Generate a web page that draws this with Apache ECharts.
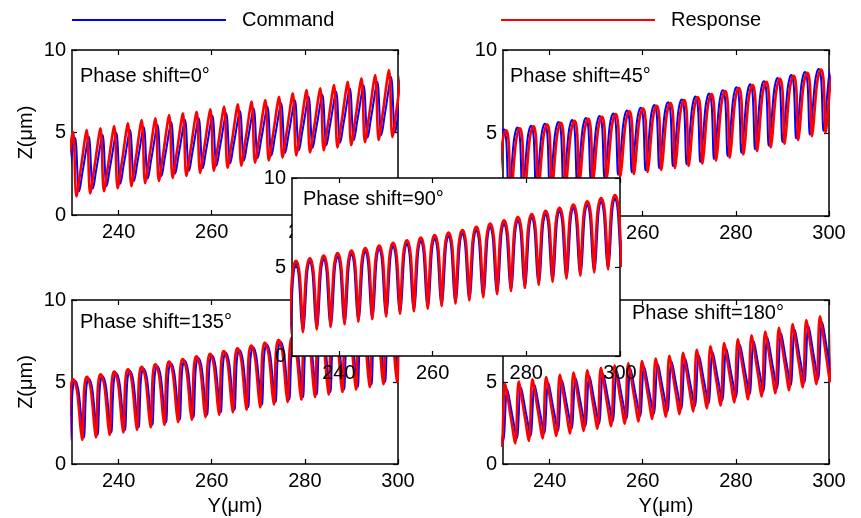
<!DOCTYPE html>
<html>
<head>
<meta charset="utf-8">
<script src="https://cdn.jsdelivr.net/npm/echarts@6/dist/echarts.min.js"></script>
<style>
html,body{margin:0;padding:0;background:#fff;}
#main{width:861px;height:518px;}
</style>
</head>
<body>
<div id="main"></div>
<script>
// tick values
var xTicks = [240, 260, 280, 300];
var yTicks = [0, 5, 10];

// ---- phase 0 (top left) : Y of each cycle top, Z of tops and bottoms
var p0Tops = [230.2,233.15,236.1,239.05,242.0,244.95,247.9,250.85,253.8,256.75,259.7,262.65,265.6,268.55,271.5,274.45,277.4,280.35,283.3,286.25,289.2,292.15,295.1,298.05,301.0];
var p0ResTop = [5.05,5.15,5.25,5.39,5.56,5.76,5.86,6.06,6.16,6.26,6.40,6.57,6.71,6.87,6.97,7.17,7.37,7.58,7.68,7.88,8.08,8.28,8.48,8.79,8.95];
var p0ResBot = [0.98,1.13,1.31,1.44,1.62,1.75,1.93,2.06,2.24,2.37,2.55,2.68,2.86,2.99,3.17,3.30,3.48,3.61,3.79,3.92,4.10,4.23,4.41,4.54,4.72,4.86];
var p0CmdTop = [4.68,4.76,4.86,4.98,5.15,5.34,5.47,5.64,5.77,5.87,6.01,6.16,6.31,6.46,6.58,6.77,6.96,7.16,7.29,7.48,7.68,7.87,8.08,8.36,8.55];
var p0CmdBot = [1.30,1.44,1.60,1.75,1.90,2.06,2.21,2.37,2.52,2.68,2.83,2.99,3.14,3.30,3.45,3.61,3.76,3.92,4.07,4.23,4.38,4.54,4.69,4.85,5.00,5.16];

// ---- phase 45 (top right)
var p1Tops = [230.66,233.6,236.54,239.48,242.42,245.36,248.3,251.24,254.18,257.12,260.06,263.0,265.94,268.88,271.82,274.76,277.7,280.64,283.58,286.52,289.46,292.4,295.34,298.28,301.22];
var p1ResTop = [5.17,5.28,5.40,5.51,5.62,5.74,5.85,5.97,6.14,6.31,6.48,6.64,6.81,6.98,7.15,7.34,7.52,7.71,7.89,8.08,8.26,8.45,8.63,8.82,9.00];
var p1ResBot = [1.00,1.15,1.30,1.45,1.60,1.75,1.90,2.06,2.22,2.38,2.53,2.66,2.78,2.90,3.02,3.16,3.34,3.52,3.71,3.92,4.14,4.36,4.58,4.81,5.04,5.26];
var p1CmdTop = [5.22,5.33,5.44,5.56,5.67,5.78,5.90,6.02,6.18,6.35,6.52,6.69,6.85,7.02,7.20,7.38,7.57,7.75,7.94,8.12,8.31,8.49,8.68,8.86,9.05];
var p1CmdBot = [1.10,1.25,1.40,1.55,1.70,1.85,2.00,2.16,2.32,2.48,2.63,2.76,2.88,3.00,3.12,3.26,3.44,3.62,3.81,4.02,4.24,4.46,4.68,4.91,5.14,5.36];

// ---- phase 90 (centre)
var p2Tops = [227.89,230.85,233.81,236.77,239.73,242.69,245.65,248.61,251.57,254.53,257.49,260.45,263.41,266.37,269.33,272.29,275.25,278.21,281.17,284.13,287.09,290.05,293.01,295.97,298.93,301.89];
var p2ResTop = [5.20,5.35,5.49,5.64,5.78,5.92,6.07,6.21,6.36,6.50,6.65,6.79,6.94,7.08,7.26,7.44,7.62,7.80,7.98,8.16,8.33,8.51,8.69,8.87,9.04,9.20];
var p2ResBot = [1.05,1.19,1.34,1.49,1.63,1.78,1.93,2.07,2.22,2.37,2.51,2.66,2.81,2.95,3.12,3.30,3.47,3.65,3.82,4.00,4.17,4.35,4.52,4.70,4.87,5.05,5.22];
var p2CmdTop = [5.02,5.17,5.31,5.46,5.60,5.74,5.89,6.03,6.18,6.32,6.47,6.61,6.76,6.90,7.08,7.26,7.44,7.62,7.80,7.98,8.15,8.33,8.51,8.69,8.86,9.02];
var p2CmdBot = [1.17,1.31,1.46,1.61,1.75,1.90,2.05,2.19,2.34,2.49,2.63,2.78,2.93,3.07,3.24,3.42,3.59,3.77,3.94,4.12,4.29,4.47,4.64,4.82,4.99,5.17,5.34];

// ---- phase 135 (bottom left)
var p3Tops = [227.32,230.26,233.2,236.14,239.08,242.02,244.96,247.9,250.84,253.78,256.72,259.66,262.6,265.54,268.48,271.42,274.36,277.3,280.24,283.18,286.12,289.06,292.0,294.94,297.88,300.82];
var p3ResTop = [5.02,5.17,5.32,5.47,5.63,5.78,5.93,6.08,6.24,6.40,6.56,6.72,6.89,7.05,7.22,7.39,7.56,7.72,7.89,8.06,8.23,8.40,8.57,8.74,8.91,9.08];
var p3ResBot = [1.16,1.32,1.47,1.63,1.78,1.93,2.09,2.24,2.39,2.55,2.70,2.86,3.01,3.16,3.32,3.47,3.63,3.78,3.93,4.09,4.24,4.40,4.55,4.70,4.86,5.01,5.17];
var p3CmdTop = [4.92,5.07,5.22,5.37,5.53,5.68,5.83,5.98,6.14,6.30,6.46,6.62,6.79,6.95,7.12,7.29,7.46,7.62,7.79,7.96,8.13,8.30,8.47,8.64,8.81,8.98];
var p3CmdBot = [1.31,1.47,1.62,1.78,1.93,2.08,2.24,2.39,2.54,2.70,2.85,3.01,3.16,3.31,3.47,3.62,3.78,3.93,4.08,4.24,4.39,4.55,4.70,4.85,5.01,5.16,5.32];

// ---- phase 180 (bottom right)
var p4Tops = [227.51,230.45,233.39,236.33,239.27,242.21,245.15,248.09,251.03,253.97,256.91,259.85,262.79,265.73,268.67,271.61,274.55,277.49,280.43,283.37,286.31,289.25,292.19,295.13,298.07,301.01];
var p4ResTop = [4.75,4.88,5.02,5.16,5.30,5.44,5.58,5.72,5.86,6.00,6.14,6.28,6.43,6.60,6.78,6.97,7.17,7.37,7.60,7.84,8.07,8.30,8.53,8.77,9.00,9.20];
var p4ResBot = [0.97,1.12,1.26,1.41,1.56,1.71,1.86,2.01,2.15,2.30,2.45,2.60,2.75,2.89,3.04,3.21,3.39,3.57,3.76,3.94,4.12,4.31,4.49,4.67,4.86,5.04,5.23];
var p4CmdTop = [4.40,4.53,4.67,4.81,4.95,5.09,5.23,5.37,5.51,5.65,5.79,5.93,6.08,6.25,6.43,6.62,6.82,7.02,7.25,7.49,7.72,7.95,8.18,8.42,8.65,8.85];
var p4CmdBot = [1.27,1.42,1.56,1.71,1.86,2.01,2.16,2.31,2.45,2.60,2.75,2.90,3.05,3.19,3.34,3.51,3.69,3.87,4.06,4.24,4.42,4.61,4.79,4.97,5.16,5.34,5.53];

// shape of one cycle: [Y offset from the top of the cycle, height fraction]
var shape0Res = {rise:[[-2.18,0],[-1.89,0.1],[-1.51,0.3],[-1.09,0.5],[-0.67,0.72],[-0.29,0.9],[0,1]],
	fall:[[0.20,0.9],[0.32,0.72],[0.39,0.5],[0.46,0.3],[0.58,0.1]]};
var shape0Cmd = {rise:[[-2.08,0],[-1.79,0.1],[-1.44,0.3],[-1.04,0.5],[-0.64,0.72],[-0.29,0.9],[0,1]],
	fall:[[0.21,0.9],[0.34,0.72],[0.44,0.5],[0.54,0.3],[0.67,0.1]]};
var shape45Res = {rise:[[-1.98,0],[-1.82,0.05],[-1.57,0.2],[-1.24,0.5],[-0.83,0.8],[-0.40,0.95],[0,1]],
	fall:[[0.34,0.95],[0.58,0.8],[0.74,0.5],[0.83,0.2],[0.90,0.05]]};
var shape45Cmd = {rise:[[-1.90,0],[-1.74,0.05],[-1.49,0.2],[-1.16,0.5],[-0.78,0.8],[-0.38,0.95],[0,1]],
	fall:[[0.33,0.95],[0.57,0.8],[0.74,0.5],[0.85,0.2],[0.94,0.05]]};
var shape90Res = {rise:[[-1.48,0],[-1.41,0.05],[-1.29,0.2],[-1.09,0.5],[-0.80,0.8],[-0.42,0.95],[0,1]],
	fall:[[0.42,0.95],[0.80,0.8],[1.09,0.5],[1.29,0.2],[1.41,0.05]]};
var shape90Cmd = {rise:[[-1.48,0],[-1.29,0.05],[-1.09,0.2],[-0.86,0.5],[-0.60,0.8],[-0.31,0.95],[0,1]],
	fall:[[0.31,0.95],[0.60,0.8],[0.86,0.5],[1.09,0.2],[1.29,0.05]]};
var shape135Res = {rise:[[-0.99,0],[-0.90,0.05],[-0.83,0.2],[-0.74,0.5],[-0.58,0.8],[-0.34,0.95],[0,1]],
	fall:[[0.40,0.95],[0.83,0.8],[1.24,0.5],[1.57,0.2],[1.82,0.05]]};
var shape135Cmd = {rise:[[-1.06,0],[-0.94,0.05],[-0.85,0.2],[-0.74,0.5],[-0.57,0.8],[-0.33,0.95],[0,1]],
	fall:[[0.38,0.95],[0.78,0.8],[1.16,0.5],[1.49,0.2],[1.74,0.05]]};
var shape180Res = {rise:[[-0.78,0],[-0.58,0.1],[-0.46,0.3],[-0.39,0.5],[-0.32,0.72],[-0.20,0.9],[0,1]],
	fall:[[0.29,0.9],[0.67,0.72],[1.09,0.5],[1.51,0.3],[1.89,0.1]]};
var shape180Cmd = {rise:[[-0.88,0],[-0.67,0.1],[-0.54,0.3],[-0.44,0.5],[-0.34,0.72],[-0.21,0.9],[0,1]],
	fall:[[0.29,0.9],[0.64,0.72],[1.04,0.5],[1.44,0.3],[1.79,0.1]]};

var FONT = '"Liberation Sans", Arial, sans-serif';
var BLUE = '#0000ff';
var RED = '#ff0000';

// grid 4 (phase 90) sits on top of the others
var panels = [
	{box:{left:72, top:50, width:326, height:165}, label:'Phase shift=0°', lx:80, ly:66, tops:p0Tops,
		res:[p0ResTop,p0ResBot,shape0Res], cmd:[p0CmdTop,p0CmdBot,shape0Cmd], cmdShift:0.45, zName:true, yName:false},
	{box:{left:503, top:50, width:326, height:166}, label:'Phase shift=45°', lx:510, ly:66, tops:p1Tops,
		res:[p1ResTop,p1ResBot,shape45Res], cmd:[p1CmdTop,p1CmdBot,shape45Cmd], cmdShift:-0.5, zName:false, yName:false},
	{box:{left:72, top:300, width:326, height:164}, label:'Phase shift=135°', lx:80, ly:312, tops:p3Tops,
		res:[p3ResTop,p3ResBot,shape135Res], cmd:[p3CmdTop,p3CmdBot,shape135Cmd], cmdShift:0.4, zName:true, yName:true},
	{box:{left:503, top:300, width:326, height:164}, label:'Phase shift=180°', lx:632, ly:303, tops:p4Tops,
		res:[p4ResTop,p4ResBot,shape180Res], cmd:[p4CmdTop,p4CmdBot,shape180Cmd], cmdShift:0.45, zName:false, yName:true},
	{box:{left:292, top:178, width:328, height:178}, label:'Phase shift=90°', lx:303, ly:189, tops:p2Tops,
		res:[p2ResTop,p2ResBot,shape90Res], cmd:[p2CmdTop,p2CmdBot,shape90Cmd], cmdShift:0, zName:false, yName:false, top:true}
];

//把每一圈按形状拼成一条线
function buildTrace(tops, topZ, botZ, shape, shift){
	var pts = [];
	for(var k=0;k<tops.length;k++){
		var y0 = tops[k] + shift;
		for(var i=0;i<shape.rise.length;i++){
			var r = shape.rise[i];
			pts.push([y0 + r[0], botZ[k] + r[1]*(topZ[k]-botZ[k])]);
		}
		for(var j=0;j<shape.fall.length;j++){
			var f = shape.fall[j];
			pts.push([y0 + f[0], botZ[k+1] + f[1]*(topZ[k]-botZ[k+1])]);
		}
	}
	return pts;
}

var grids = [], xAxes = [], yAxes = [], series = [], titles = [];
var lineCol = {color:'#000', width:1.5};

for(var g=0; g<panels.length; g++){
	var p = panels[g];
	var zl = p.top ? 1 : 0;
	grids.push({
		left:p.box.left, top:p.box.top, width:p.box.width, height:p.box.height,
		show:true, backgroundColor:'#fff', borderWidth:0, zlevel:zl
	});
	xAxes.push({
		type:'value', gridIndex:g, min:230, max:300, position:'bottom', zlevel:zl,
		axisLine:{show:true, onZero:false, lineStyle:lineCol},
		axisTick:{show:true, inside:true, length:5, customValues:xTicks, lineStyle:{color:'#000', width:1.2}},
		axisLabel:{show:true, customValues:xTicks, margin:7, color:'#000', fontSize:20, fontFamily:FONT},
		splitLine:{show:false},
		name: p.yName ? 'Y(μm)' : '', nameLocation:'middle', nameGap:32,
		nameTextStyle:{color:'#000', fontSize:20, fontFamily:FONT}
	});
	xAxes.push({
		type:'value', gridIndex:g, min:230, max:300, position:'top', zlevel:zl,
		axisLine:{show:true, onZero:false, lineStyle:lineCol},
		axisTick:{show:true, inside:true, length:5, customValues:xTicks, lineStyle:{color:'#000', width:1.2}},
		axisLabel:{show:false}, splitLine:{show:false}
	});
	yAxes.push({
		type:'value', gridIndex:g, min:0, max:10, interval:5, position:'left', zlevel:zl,
		axisLine:{show:true, onZero:false, lineStyle:lineCol},
		axisTick:{show:true, inside:true, length:5, customValues:yTicks, lineStyle:{color:'#000', width:1.2}},
		axisLabel:{show:true, margin:6, customValues:yTicks, color:'#000', fontSize:20, fontFamily:FONT},
		splitLine:{show:false},
		name: p.zName ? 'Z(μm)' : '', nameLocation:'middle', nameGap:36, nameRotate:90,
		nameTextStyle:{color:'#000', fontSize:20, fontFamily:FONT}
	});
	yAxes.push({
		type:'value', gridIndex:g, min:0, max:10, interval:5, position:'right', zlevel:zl,
		axisLine:{show:true, onZero:false, lineStyle:lineCol},
		axisTick:{show:true, inside:true, length:5, customValues:yTicks, lineStyle:{color:'#000', width:1.2}},
		axisLabel:{show:false}, splitLine:{show:false}
	});
	series.push({
		name:'Command', type:'line', xAxisIndex:2*g, yAxisIndex:2*g, zlevel:zl, z:2,
		data:buildTrace(p.tops, p.cmd[0], p.cmd[1], p.cmd[2], p.cmdShift),
		symbol:'none', showSymbol:false, smooth:0.3, silent:true, animation:false,
		lineStyle:{color:BLUE, width:2}, itemStyle:{color:BLUE}
	});
	series.push({
		name:'Response', type:'line', xAxisIndex:2*g, yAxisIndex:2*g, zlevel:zl, z:3,
		data:buildTrace(p.tops, p.res[0], p.res[1], p.res[2], 0),
		symbol:'none', showSymbol:false, smooth:0.3, silent:true, animation:false,
		lineStyle:{color:RED, width:2.6}, itemStyle:{color:RED}
	});
	titles.push({
		text:p.label, left:p.lx, top:p.ly, padding:0, zlevel:zl,
		textStyle:{color:'#000', fontSize:20, fontWeight:'normal', fontFamily:FONT}
	});
}

var myChart = echarts.init(document.getElementById('main'));
myChart.setOption({
	animation:false,
	backgroundColor:'#fff',
	title:titles,
	legend:[
		{data:['Command'], left:72, top:10, icon:'rect', itemWidth:154, itemHeight:2, itemGap:0, padding:0,
			textStyle:{color:'#000', fontSize:20, fontFamily:FONT, padding:[0,0,0,11]}},
		{data:['Response'], left:501, top:10, icon:'rect', itemWidth:154, itemHeight:2, itemGap:0, padding:0,
			textStyle:{color:'#000', fontSize:20, fontFamily:FONT, padding:[0,0,0,11]}}
	],
	grid:grids,
	xAxis:xAxes,
	yAxis:yAxes,
	series:series
});
</script>
</body>
</html>
